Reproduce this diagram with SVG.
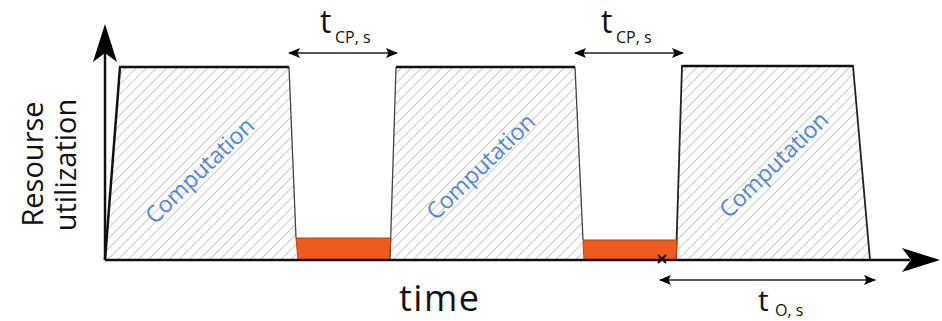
<svg xmlns="http://www.w3.org/2000/svg" width="942" height="321" viewBox="0 0 942 321">
<defs>
<pattern id="hatch" patternUnits="userSpaceOnUse" width="7.2" height="7.2" patternTransform="rotate(45)">
<rect width="7.2" height="7.2" fill="#ffffff"/>
<line x1="0" y1="0" x2="0" y2="7.2" stroke="#a8a8a8" stroke-width="1.2"/>
</pattern>
<marker id="ah" viewBox="0 0 12 10" refX="11" refY="5" markerWidth="12" markerHeight="10" markerUnits="userSpaceOnUse" orient="auto-start-reverse">
<path d="M0,0 L12,5 L0,10 L2.5,5 Z" fill="#000"/>
</marker>
</defs>
<style>
.comp{font-family:"Open Sans","DejaVu Sans",sans-serif;font-size:23px;fill:#4f87dc}
.lbl{font-family:"Open Sans","DejaVu Sans",sans-serif;fill:#111}
.sub{font-size:16px}
.orange{fill:#ef5a1e;stroke:#b8400f;stroke-width:1}
.side{fill:none;stroke:#444;stroke-width:1.3}
.top{fill:none;stroke:#111;stroke-width:2.5}
.dim{stroke:#222;stroke-width:1.6;fill:none;marker-start:url(#ah);marker-end:url(#ah)}
</style>

<g id="block1">
<polygon points="105,260 120,67 289,67 296,238 298,260" fill="url(#hatch)"/>
<polyline class="side" points="289,67 296,238"/>
<line class="top" x1="105" y1="260" x2="120" y2="67"/>
<line class="top" x1="119" y1="67" x2="289" y2="67"/>
<text class="comp" transform="translate(201,172) rotate(-44)" text-anchor="middle" dominant-baseline="middle">Computation</text>
</g>

<g id="block2">
<polygon points="390,260 396,67 575,67 583,240 584,260" fill="url(#hatch)"/>
<polyline class="side" points="390,260 396,67"/>
<polyline class="side" points="575,67 583,240"/>
<line class="top" x1="396" y1="67" x2="575" y2="67"/>
<text class="comp" transform="translate(482,168) rotate(-44)" text-anchor="middle" dominant-baseline="middle">Computation</text>
</g>

<g id="block3">
<polygon points="676,260 682,66 853,66 870,260" fill="url(#hatch)" stroke="#222" stroke-width="1.8"/>
<line class="top" x1="682" y1="66" x2="853" y2="66"/>
<text class="comp" transform="translate(775,166) rotate(-44)" text-anchor="middle" dominant-baseline="middle">Computation</text>
</g>

<g id="comm1">
<polygon class="orange" points="296,238 391,238 389,260 298,260"/>
</g>
<g id="comm2">
<polygon class="orange" points="583,240 677,240 676,260 584,260"/>
</g>

<g id="axes">
<line x1="105" y1="260" x2="910" y2="260" stroke="#111" stroke-width="2.5"/>
<path d="M940,260 L902,248 L911,260 L902,272 Z" fill="#000"/>
<line x1="105" y1="260" x2="105" y2="50" stroke="#111" stroke-width="2.5"/>
<path d="M105,24 L93,62 L105,53 L117,62 Z" fill="#000"/>
</g>

<g id="connectors">
<line class="dim" x1="289" y1="53" x2="397" y2="53"/>
<line class="dim" x1="575" y1="53" x2="683" y2="53"/>
<line class="dim" x1="660" y1="280" x2="875" y2="280"/>
<path d="M658,255 L666,263 M666,255 L658,263" stroke="#111" stroke-width="1.8"/>
</g>

<g id="labels">
<text class="lbl" x="320" y="33" font-size="32">t</text>
<text class="lbl sub" x="335" y="43">CP, s</text>
<text class="lbl" x="601" y="33" font-size="32">t</text>
<text class="lbl sub" x="616" y="43">CP, s</text>
<text class="lbl" x="758" y="311" font-size="30">t</text>
<text class="lbl sub" x="775" y="316">O, s</text>
<text class="lbl" x="439" y="311" font-size="36" text-anchor="middle" textLength="80" lengthAdjust="spacing">time</text>
<text class="lbl" transform="translate(43,164) rotate(-90)" font-size="29" text-anchor="middle">Resourse</text>
<text class="lbl" transform="translate(76,165) rotate(-90)" font-size="29" text-anchor="middle">utilization</text>
</g>
</svg>
